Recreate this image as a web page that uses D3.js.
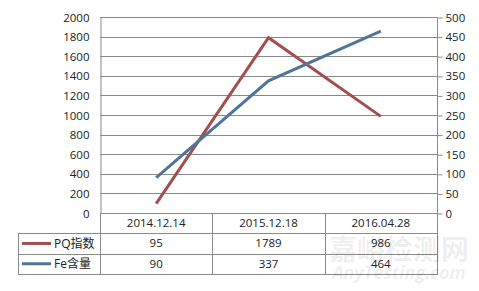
<!DOCTYPE html>
<html>
<head>
<meta charset="utf-8">
<script src="https://cdn.jsdelivr.net/npm/d3@7"></script>
<style>
  body { margin: 0; background: #fff; }
  svg { display: block; }
  text { font-family: "Open Sans", "Noto Sans CJK SC", sans-serif; fill: #222; }
</style>
</head>
<body>
<svg id="chart" width="479" height="291"></svg>
<script>
// data
var dates = ["2014.12.14", "2015.12.18", "2016.04.28"];
var pqValues = [95, 1789, 986];
var feValues = [90, 337, 464];
var seriesNames = ["PQ指数", "Fe含量"];
var leftTicks = [0, 200, 400, 600, 800, 1000, 1200, 1400, 1600, 1800, 2000];
var rightTicks = [0, 50, 100, 150, 200, 250, 300, 350, 400, 450, 500];

var colors = ["#A24F4E", "#4F7699"];
var gridColor = "#8a8a8a";

var svg = d3.select("#chart");
var plotLeft = 100, plotRight = 437, plotTop = 17, plotBottom = 213;
var rowH = 20.3;
var tableLeft = 18;

var x = d3.scaleBand().domain(dates).range([plotLeft, plotRight]);
var yL = d3.scaleLinear().domain([0, 2000]).range([plotBottom, plotTop]);
var yR = d3.scaleLinear().domain([0, 500]).range([plotBottom, plotTop]);

// gridlines
svg.append("g")
  .selectAll("line")
  .data(leftTicks)
  .enter()
  .append("line")
  .attr("x1", plotLeft)
  .attr("x2", plotRight)
  .attr("y1", function(d) { return Math.round(yL(d)) + 0.5; })
  .attr("y2", function(d) { return Math.round(yL(d)) + 0.5; })
  .attr("stroke", gridColor);

// left axis
var gL = svg.append("g")
  .attr("transform", "translate(" + (plotLeft + 0.5) + ",0.5)")
  .call(d3.axisLeft(yL).tickValues(leftTicks).tickFormat(d3.format("d")).tickSize(0).tickPadding(11));
gL.select(".domain").attr("stroke", gridColor);
gL.selectAll("text").style("font-size", "11.5px").attr("fill", "#222");

// right axis
var gR = svg.append("g")
  .attr("transform", "translate(" + (plotRight + 0.5) + ",0.5)")
  .call(d3.axisRight(yR).tickValues(rightTicks).tickFormat(d3.format("d")).tickSize(5).tickPadding(3));
gR.select(".domain").attr("stroke", gridColor).attr("d", "M0," + plotTop + "V" + plotBottom);
gR.selectAll(".tick line").attr("stroke", gridColor);
gR.selectAll("text").style("font-size", "11.5px").attr("fill", "#222");

// data table
var table = svg.append("g");
var rowsY = [plotBottom, plotBottom + rowH, plotBottom + rowH * 2, plotBottom + rowH * 3];
rowsY.slice(1).forEach(function(yy) {
  table.append("line")
    .attr("x1", tableLeft).attr("x2", plotRight)
    .attr("y1", Math.round(yy) + 0.5).attr("y2", Math.round(yy) + 0.5)
    .attr("stroke", gridColor);
});
table.append("line")
  .attr("x1", tableLeft + 0.5).attr("x2", tableLeft + 0.5)
  .attr("y1", Math.round(rowsY[1])).attr("y2", Math.round(rowsY[3]) + 1)
  .attr("stroke", gridColor);
x.domain().forEach(function(d) {
  table.append("line")
    .attr("x1", Math.round(x(d)) + 0.5).attr("x2", Math.round(x(d)) + 0.5)
    .attr("y1", plotBottom).attr("y2", Math.round(rowsY[3]) + 1)
    .attr("stroke", gridColor);
});
table.append("line")
  .attr("x1", plotRight + 0.5).attr("x2", plotRight + 0.5)
  .attr("y1", plotBottom).attr("y2", Math.round(rowsY[3]) + 1)
  .attr("stroke", gridColor);

table.selectAll("text.date")
  .data(dates)
  .enter()
  .append("text")
  .attr("class", "date")
  .attr("x", function(d) { return x(d) + x.bandwidth() / 2; })
  .attr("y", plotBottom + rowH / 2)
  .attr("dy", "0.35em")
  .attr("text-anchor", "middle")
  .style("font-size", "11.5px")
  .text(function(d) { return d; });

[pqValues, feValues].forEach(function(vals, r) {
  var cy = rowsY[r + 1] + rowH / 2;
  table.append("line")
    .attr("x1", 22).attr("x2", 51)
    .attr("y1", cy).attr("y2", cy)
    .attr("stroke", colors[r])
    .attr("stroke-width", 3);
  table.append("text")
    .attr("x", 54)
    .attr("y", cy)
    .attr("dy", "0.36em")
    .style("font-size", "12px")
    .text(seriesNames[r]);
  table.selectAll("text.v" + r)
    .data(vals)
    .enter()
    .append("text")
    .attr("class", "v" + r)
    .attr("x", function(d, i) { return x(dates[i]) + x.bandwidth() / 2; })
    .attr("y", cy)
    .attr("dy", "0.35em")
    .attr("text-anchor", "middle")
    .style("font-size", "11.5px")
    .text(function(d) { return d; });
});

// watermark
svg.append("text")
  .attr("x", 399).attr("y", 260)
  .attr("text-anchor", "middle")
  .style("font-size", "28px")
  .style("font-family", "'Noto Sans CJK SC', sans-serif")
  .style("font-weight", "bold")
  .style("fill", "#000")
  .style("fill-opacity", 0.08)
  .text("嘉峪检测网");
svg.append("text")
  .attr("x", 399).attr("y", 279)
  .attr("text-anchor", "middle")
  .style("font-size", "18px")
  .style("font-style", "italic")
  .style("font-weight", "bold")
  .style("fill", "#000")
  .style("fill-opacity", 0.08)
  .text("AnyTesting.com");

// lines
var lineL = d3.line()
  .x(function(d, i) { return x(dates[i]) + x.bandwidth() / 2; })
  .y(function(d) { return yL(d); });
var lineR = d3.line()
  .x(function(d, i) { return x(dates[i]) + x.bandwidth() / 2; })
  .y(function(d) { return yR(d); });

svg.append("path")
  .datum(pqValues)
  .attr("d", lineL)
  .attr("fill", "none")
  .attr("stroke", colors[0])
  .attr("stroke-width", 3);
svg.append("path")
  .datum(feValues)
  .attr("d", lineR)
  .attr("fill", "none")
  .attr("stroke", colors[1])
  .attr("stroke-width", 3);
</script>
</body>
</html>
